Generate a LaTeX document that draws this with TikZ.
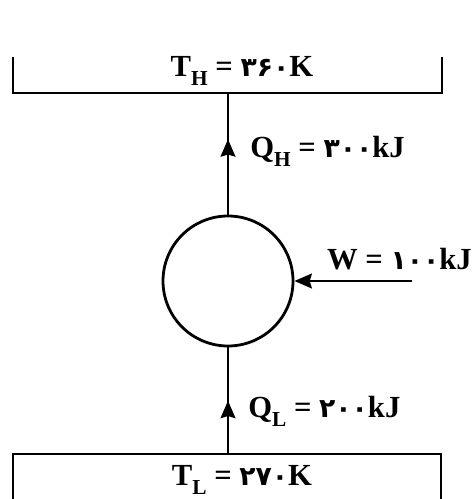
\documentclass[tikz,border=0pt]{standalone}
\usepackage{fontspec}
\setmainfont{Liberation Serif}
\newfontfamily\fadigits{DejaVu Sans}
\usetikzlibrary{arrows.meta,decorations.markings}
\newcommand{\lowsub}[1]{\raisebox{-0.3em}{\fontsize{16}{16}\selectfont #1}}
\newcommand{\fa}[1]{{\fadigits\fontsize{20}{20}\selectfont #1}}
\begin{document}
\begin{tikzpicture}[x=0.75pt,y=-0.75pt,
  line/.style={line width=2.1pt},
  lbl/.style={font=\bfseries\fontsize{23}{23}\selectfont, inner sep=0pt},
  midarrow/.style={postaction={decorate},decoration={markings,
     mark=at position #1 with {\arrow{Stealth[length=13pt,width=11pt,inset=1.5pt]}}}}]
\useasboundingbox (0,0) rectangle (474,499);
% engine
\node[circle,draw,line width=2.1pt,minimum size=97.5pt,inner sep=0pt] (eng) at (228,281) {};
% reservoirs
\coordinate (hot) at (228,93);
\coordinate (cold) at (228,454);
\draw[line] (13,57) -- (13,93) -- (442,93) -- (442,57);
\draw[line] (13,499) -- (13,454) -- (441,454) -- (441,499);
% connectors
\draw[line,midarrow=0.62] (eng.north) -- (hot);
\draw[line,midarrow=0.50] (cold) -- (eng.south);
\coordinate (wsrc) at (412,281);
\draw[line,-{Stealth[length=13pt,width=11pt,inset=1.5pt]}] (wsrc) -- (eng.east);
% labels
\node[lbl] (th) at (242,71) {T\lowsub{H} = \fa{۳۶۰}K};
\node[lbl,anchor=west] (qh) at (250,151) {Q\lowsub{H} = \fa{۳۰۰}kJ};
\node[lbl,anchor=east] (w) at (472,259) {W = \fa{۱۰۰}kJ};
\node[lbl,anchor=west] (ql) at (248,411) {Q\lowsub{L} = \fa{۲۰۰}kJ};
\node[lbl] (tl) at (242,480) {T\lowsub{L} = \fa{۲۷۰}K};
\end{tikzpicture}
\end{document}
